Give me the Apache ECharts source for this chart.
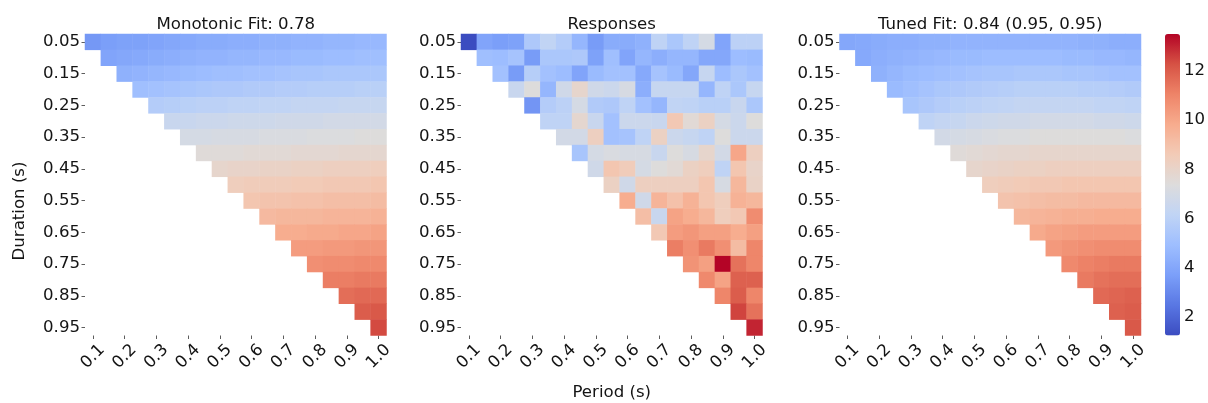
<!DOCTYPE html>
<html>
<head>
<meta charset="utf-8">
<script src="https://cdn.jsdelivr.net/npm/echarts@6/dist/echarts.min.js"></script>
<style>
  html, body { margin: 0; padding: 0; background: #ffffff; }
  #chart { width: 1208px; height: 403px; }
</style>
</head>
<body>
<div id="chart"></div>
<script>
// Stimulus grid: period (columns) and pulse duration (rows), duration < period.
const periods = ['0.1', '0.15', '0.2', '0.25', '0.3', '0.35', '0.4', '0.45', '0.5', '0.55',
                 '0.6', '0.65', '0.7', '0.75', '0.8', '0.85', '0.9', '0.95', '1.0'];
const durations = ['0.05', '0.1', '0.15', '0.2', '0.25', '0.3', '0.35', '0.4', '0.45', '0.5',
                   '0.55', '0.6', '0.65', '0.7', '0.75', '0.8', '0.85', '0.9', '0.95'];
const colorbarTicks = [2, 4, 6, 8, 10, 12];
const panelTitles = ['Monotonic Fit: 0.78', 'Responses', 'Tuned Fit: 0.84 (0.95, 0.95)'];
const xAxisTitle = 'Period (s)';
const yAxisTitle = 'Duration (s)';

// Each row holds the values for one duration, starting at the first period longer than it.
const monotonicFit = [
  [3.5, 3.7, 3.8, 3.8, 3.9, 4.0, 4.1, 4.2, 4.2, 4.3, 4.3, 4.4, 4.4, 4.5, 4.5, 4.6, 4.6, 4.7, 4.7],
  [3.9, 4.0, 4.1, 4.2, 4.3, 4.4, 4.5, 4.5, 4.6, 4.6, 4.7, 4.7, 4.8, 4.8, 4.9, 4.9, 5.0, 5.0],
  [4.4, 4.5, 4.6, 4.7, 4.8, 4.9, 5.0, 5.0, 5.1, 5.1, 5.2, 5.3, 5.3, 5.4, 5.4, 5.4, 5.4],
  [5.0, 5.1, 5.2, 5.3, 5.4, 5.5, 5.5, 5.6, 5.6, 5.7, 5.7, 5.8, 5.8, 5.8, 5.9, 5.9],
  [5.7, 5.8, 5.9, 6.0, 6.0, 6.1, 6.1, 6.2, 6.2, 6.3, 6.3, 6.3, 6.4, 6.4, 6.4],
  [6.5, 6.5, 6.6, 6.6, 6.7, 6.7, 6.7, 6.8, 6.8, 6.8, 6.9, 6.9, 6.9, 6.9],
  [7.0, 7.0, 7.1, 7.1, 7.1, 7.2, 7.2, 7.2, 7.3, 7.3, 7.3, 7.4, 7.4],
  [7.5, 7.5, 7.5, 7.6, 7.6, 7.6, 7.7, 7.7, 7.7, 7.8, 7.8, 7.8],
  [7.9, 8.0, 8.0, 8.1, 8.1, 8.2, 8.2, 8.3, 8.3, 8.3, 8.4],
  [8.4, 8.5, 8.5, 8.5, 8.6, 8.6, 8.7, 8.7, 8.7, 8.8],
  [8.8, 8.9, 8.9, 9.0, 9.0, 9.1, 9.1, 9.1, 9.2],
  [9.3, 9.4, 9.4, 9.4, 9.5, 9.5, 9.5, 9.6],
  [9.8, 9.8, 9.9, 9.9, 10.0, 10.0, 10.1],
  [10.3, 10.3, 10.4, 10.4, 10.5, 10.5],
  [10.7, 10.8, 10.8, 10.9, 10.9],
  [11.2, 11.2, 11.3, 11.3],
  [11.6, 11.7, 11.7],
  [12.0, 12.1],
  [12.4]
];

const responses = [
  [1.25, 3.9, 3.7, 3.8, 5.5, 6.2, 5.7, 4.6, 3.6, 4.2, 4.2, 4.4, 6.1, 5.4, 6.1, 7.0, 3.9, 6.0, 6.0],
  [5.0, 4.9, 5.2, 3.6, 5.4, 5.4, 5.5, 3.8, 5.0, 3.9, 4.6, 4.3, 4.6, 4.6, 4.0, 4.0, 4.9, 4.8],
  [5.1, 3.6, 5.8, 5.1, 4.9, 3.9, 4.8, 5.1, 5.1, 4.1, 5.2, 4.8, 4.0, 6.4, 4.9, 5.4, 5.1],
  [6.5, 7.4, 4.6, 6.8, 7.9, 6.8, 6.6, 7.1, 4.3, 6.4, 6.4, 6.4, 4.6, 6.1, 5.4, 6.4],
  [3.4, 5.7, 6.0, 7.0, 5.6, 5.5, 6.1, 5.1, 4.6, 6.2, 6.1, 5.9, 5.9, 6.5, 5.4],
  [6.1, 6.1, 7.8, 6.5, 5.1, 6.6, 6.6, 6.5, 8.7, 7.6, 8.2, 7.0, 6.6, 7.4],
  [6.9, 6.9, 8.3, 5.1, 5.2, 6.1, 8.2, 6.6, 6.4, 6.1, 7.4, 6.6, 6.6],
  [5.3, 7.0, 7.2, 7.1, 7.1, 6.5, 7.4, 7.1, 7.9, 6.9, 10.0, 8.3],
  [6.8, 8.8, 8.5, 7.0, 7.4, 7.6, 8.2, 8.4, 6.1, 8.8, 8.0],
  [8.2, 6.8, 8.3, 8.3, 8.3, 8.3, 8.8, 7.1, 9.4, 8.1],
  [9.8, 6.8, 9.5, 9.0, 9.6, 8.8, 8.4, 9.6, 9.4],
  [9.1, 6.5, 10.1, 9.8, 9.4, 8.4, 8.7, 10.8],
  [8.7, 10.3, 10.5, 10.2, 10.2, 9.8, 10.2],
  [11.2, 10.7, 11.3, 10.7, 9.2, 11.0],
  [10.6, 10.2, 13.5, 11.5, 11.0],
  [10.9, 10.1, 11.9, 11.9],
  [11.0, 12.0, 11.0],
  [12.5, 11.5],
  [13.0]
];

const tunedFit = [
  [4.0, 4.1, 4.2, 4.3, 4.3, 4.4, 4.4, 4.5, 4.5, 4.5, 4.5, 4.5, 4.5, 4.5, 4.5, 4.4, 4.4, 4.3, 4.3],
  [4.1, 4.3, 4.4, 4.5, 4.6, 4.7, 4.8, 4.8, 4.9, 4.9, 4.9, 4.9, 4.9, 4.8, 4.8, 4.7, 4.7, 4.6],
  [4.4, 4.6, 4.8, 4.9, 5.0, 5.1, 5.2, 5.3, 5.3, 5.4, 5.4, 5.4, 5.3, 5.3, 5.2, 5.1, 5.1],
  [4.8, 5.0, 5.2, 5.4, 5.5, 5.6, 5.7, 5.8, 5.9, 5.9, 5.9, 5.9, 5.8, 5.8, 5.7, 5.6],
  [5.3, 5.5, 5.7, 5.9, 6.0, 6.1, 6.2, 6.3, 6.3, 6.3, 6.3, 6.3, 6.2, 6.2, 6.1],
  [6.1, 6.3, 6.4, 6.6, 6.7, 6.8, 6.8, 6.9, 6.9, 6.9, 6.9, 6.8, 6.8, 6.7],
  [6.9, 7.0, 7.1, 7.2, 7.3, 7.3, 7.4, 7.4, 7.4, 7.4, 7.4, 7.4, 7.3],
  [7.5, 7.6, 7.7, 7.8, 7.8, 7.9, 7.9, 7.9, 7.9, 7.9, 7.9, 7.9],
  [7.9, 8.0, 8.1, 8.2, 8.2, 8.3, 8.3, 8.3, 8.3, 8.3, 8.3],
  [8.4, 8.5, 8.6, 8.7, 8.7, 8.8, 8.8, 8.8, 8.8, 8.8],
  [8.9, 9.0, 9.1, 9.2, 9.2, 9.3, 9.3, 9.3, 9.3],
  [9.4, 9.5, 9.6, 9.7, 9.7, 9.8, 9.8, 9.8],
  [9.9, 10.1, 10.2, 10.3, 10.3, 10.3, 10.3],
  [10.4, 10.6, 10.7, 10.8, 10.8, 10.8],
  [10.9, 11.1, 11.2, 11.3, 11.3],
  [11.3, 11.5, 11.6, 11.6],
  [11.7, 11.8, 11.9],
  [11.9, 12.0],
  [12.1]
];

const colorMin = 1.25;
const colorMax = 13.5;
// Diverging blue-to-red scale (coolwarm).
const coolwarm = ['#3b4cc0', '#5977e3', '#7b9ff9', '#9ebeff', '#c0d4f5', '#dddcdc',
                  '#f2cbb7', '#f7ac8e', '#ee8468', '#d65244', '#b40426'];

const FONT = '"DejaVu Sans", "Liberation Sans", sans-serif';
const FONT_SIZE = 16.6;
const TEXT = '#141414';

function toCells(rows) {
  const cells = [];
  rows.forEach((row, r) => {
    row.forEach((v, k) => cells.push([r + k, r, v]));
  });
  return cells;
}

const panels = [monotonicFit, responses, tunedFit];
const panelLeft = [85, 461, 839.5];
const panelTop = 34;
const panelSize = 301.5;

const grids = panelLeft.map(l => ({ left: l, top: panelTop, width: panelSize, height: panelSize }));
grids.push({ left: 1165, top: panelTop, width: 15, height: panelSize });

const tickStyle = { show: true, length: 3.5, lineStyle: { color: '#333', width: 0.8 } };

const xAxes = panels.map((_, i) => ({
  type: 'category', gridIndex: i, data: periods,
  axisLine: { show: false },
  axisTick: Object.assign({ interval: 1, alignWithLabel: true }, tickStyle),
  axisLabel: { interval: 1, rotate: 45, align: 'center', verticalAlign: 'middle', margin: 21,
               fontSize: FONT_SIZE, color: TEXT, fontFamily: FONT },
  splitLine: { show: false }
}));
xAxes.push({ type: 'value', gridIndex: 3, show: false, min: 0, max: 1 });

const yAxes = panels.map((_, i) => ({
  type: 'category', gridIndex: i, data: durations, inverse: true,
  axisLine: { show: false },
  axisTick: Object.assign({ interval: 1, alignWithLabel: true }, tickStyle),
  axisLabel: { interval: 1, margin: 5, fontSize: FONT_SIZE, color: TEXT, fontFamily: FONT },
  splitLine: { show: false }
}));
yAxes.push({
  type: 'value', gridIndex: 3, position: 'right', min: colorMin, max: colorMax,
  axisLine: { show: false }, splitLine: { show: false },
  axisTick: Object.assign({ customValues: colorbarTicks }, tickStyle),
  axisLabel: { customValues: colorbarTicks, margin: 5, fontSize: FONT_SIZE, color: TEXT, fontFamily: FONT }
});

const series = panels.map((rows, i) => ({
  type: 'heatmap', name: panelTitles[i], xAxisIndex: i, yAxisIndex: i,
  data: toCells(rows),
  itemStyle: { borderWidth: 0 },
  emphasis: { disabled: true },
  progressive: 0
}));
series.push({ type: 'line', xAxisIndex: 3, yAxisIndex: 3, data: [], silent: true });

const font = FONT_SIZE + 'px ' + FONT;
const graphics = panelTitles.map((t, i) => ({
  type: 'text', x: panelLeft[i] + panelSize / 2, y: 25, silent: true,
  style: { text: t, font: font, fill: TEXT, align: 'center', verticalAlign: 'middle' }
}));
graphics.push({
  type: 'text', x: panelLeft[1] + panelSize / 2, y: 393, silent: true,
  style: { text: xAxisTitle, font: font, fill: TEXT, align: 'center', verticalAlign: 'middle' }
});
graphics.push({
  type: 'text', x: 20, y: 211, rotation: Math.PI / 2, silent: true,
  style: { text: yAxisTitle, font: font, fill: TEXT, align: 'center', verticalAlign: 'middle' }
});

const chart = echarts.init(document.getElementById('chart'), null, { renderer: 'canvas' });
chart.setOption({
  animation: false,
  backgroundColor: '#ffffff',
  grid: grids,
  xAxis: xAxes,
  yAxis: yAxes,
  visualMap: {
    type: 'continuous', min: colorMin, max: colorMax, seriesIndex: [0, 1, 2],
    orient: 'vertical', left: 1165, top: panelTop, itemWidth: 15, itemHeight: panelSize,
    padding: 0, calculable: false, hoverLink: false, text: null,
    inRange: { color: coolwarm }
  },
  series: series,
  graphic: graphics
});
</script>
</body>
</html>
